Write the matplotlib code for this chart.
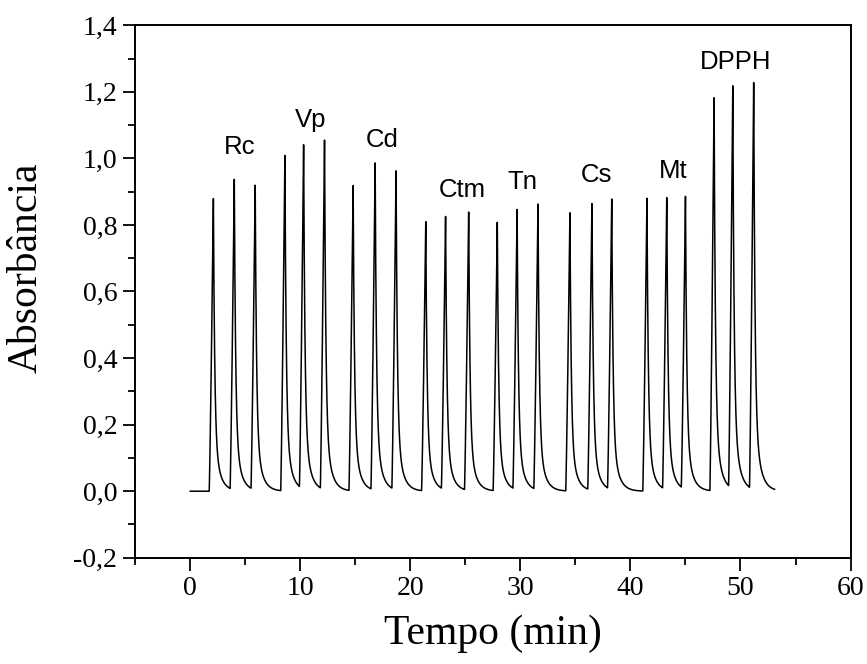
import numpy as np
import matplotlib
matplotlib.use("Agg")
import matplotlib.pyplot as plt
from matplotlib.ticker import MultipleLocator, FuncFormatter

# --- picos FIA (tempo do maximo em min, absorbancia do maximo) ---
T_PICO = [2.1, 4.0, 5.9, 8.6, 10.3, 12.2, 14.8, 16.8, 18.7,
          21.4, 23.2, 25.3, 27.9, 29.7, 31.6, 34.5, 36.5, 38.3,
          41.5, 43.3, 45.0, 47.6, 49.3, 51.2]
A_PICO = [0.879, 0.933, 0.915, 1.008, 1.034, 1.050, 0.917, 0.983, 0.958,
          0.809, 0.821, 0.836, 0.807, 0.842, 0.859, 0.836, 0.861, 0.873,
          0.880, 0.877, 0.880, 1.181, 1.210, 1.222]
T_FIM = 53.1

# rotulos das amostras (texto, tempo, absorbancia)
ROTULOS = ["Rc", "Vp", "Cd", "Ctm", "Tn", "Cs", "Mt", "DPPH"]
ROT_X = [4.5, 10.9, 17.4, 24.7, 30.2, 36.9, 43.9, 49.6]
ROT_Y = [1.033, 1.114, 1.054, 0.904, 0.928, 0.949, 0.961, 1.290]

# forma do pico: subida quase linear + decaimento biexponencial
SUBIDA = 0.38
TAU1, TAU2, FRAC = 0.12, 0.5, 0.8


def sinal(t):
    y = np.zeros_like(t)
    for tp, a in zip(T_PICO, A_PICO):
        dt = t - tp
        sub = (dt >= -SUBIDA) & (dt < 0)
        y[sub] += a * (1 + dt[sub] / SUBIDA) ** 1.2
        dec = dt >= 0
        y[dec] += a * (FRAC * np.exp(-dt[dec] / TAU1)
                       + (1 - FRAC) * np.exp(-dt[dec] / TAU2))
    return y


t = np.arange(0, T_FIM, 0.004)
y = sinal(t)

fig = plt.figure(figsize=(8.67, 6.64), dpi=100)
ax = fig.add_axes([0.156, 0.160, 0.825, 0.802])
ax.plot(t, y, color="black", lw=1.1)

for txt, xr, yr in zip(ROTULOS, ROT_X, ROT_Y):
    ax.text(xr, yr, txt, ha="center", va="center", fontsize=18.5,
            family="Liberation Sans")

ax.set_xlim(-5, 60)
ax.set_ylim(-0.2, 1.4)
ax.xaxis.set_major_locator(MultipleLocator(10))
ax.xaxis.set_minor_locator(MultipleLocator(5))
ax.yaxis.set_major_locator(MultipleLocator(0.2))
ax.yaxis.set_minor_locator(MultipleLocator(0.1))
ax.yaxis.set_major_formatter(FuncFormatter(lambda v, p: f"{v:.1f}".replace(".", ",")))

ax.tick_params(which="both", direction="out", top=False, right=False, width=1.3)
ax.tick_params(which="major", length=9, labelsize=20, pad=4)
ax.tick_params(which="minor", length=5)
for lab in ax.get_xticklabels() + ax.get_yticklabels():
    lab.set_family("Liberation Serif")
for s in ax.spines.values():
    s.set_linewidth(1.4)

ax.set_xlabel("Tempo (min)", fontsize=30, family="Liberation Serif", labelpad=10)
ax.set_ylabel("Absorbância", fontsize=30, family="Liberation Serif", labelpad=20)
ax.yaxis.label.set_y(0.545)

fig.savefig("out.png", dpi=100)
